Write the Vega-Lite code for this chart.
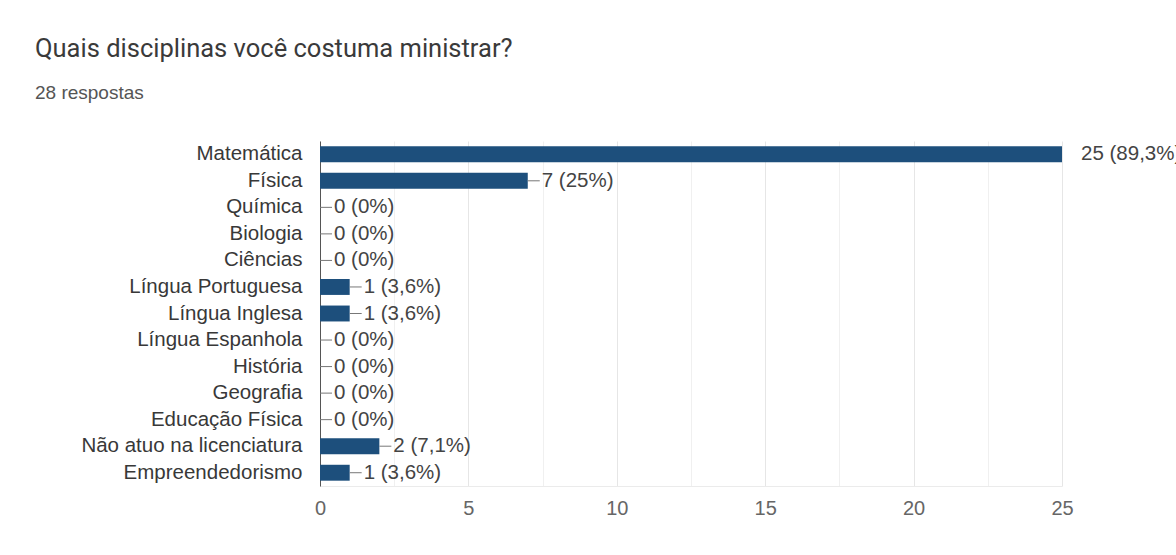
{
  "$schema": "https://vega.github.io/schema/vega-lite/v6.json",
  "width": 742,
  "height": 345,
  "autosize": {"type": "none"},
  "padding": {"left": 320, "top": 141, "right": 114, "bottom": 69},
  "background": "white",
  "title": {
    "text": "Quais disciplinas você costuma ministrar?",
    "subtitle": "28 respostas",
    "anchor": "start",
    "frame": "group",
    "dx": -285,
    "font": "Roboto",
    "fontSize": 25.5,
    "fontWeight": "normal",
    "color": "#3a3a3a",
    "subtitleFont": "Liberation Sans",
    "subtitleFontSize": 19,
    "subtitleColor": "#555555",
    "subtitlePadding": 22,
    "offset": 38
  },
  "config": {"view": {"stroke": null}},
  "data": {
    "values": [
      {"disciplina": "Matemática", "count": 25, "label": "25 (89,3%)"},
      {"disciplina": "Física", "count": 7, "label": "7 (25%)"},
      {"disciplina": "Química", "count": 0, "label": "0 (0%)"},
      {"disciplina": "Biologia", "count": 0, "label": "0 (0%)"},
      {"disciplina": "Ciências", "count": 0, "label": "0 (0%)"},
      {"disciplina": "Língua Portuguesa", "count": 1, "label": "1 (3,6%)"},
      {"disciplina": "Língua Inglesa", "count": 1, "label": "1 (3,6%)"},
      {"disciplina": "Língua Espanhola", "count": 0, "label": "0 (0%)"},
      {"disciplina": "História", "count": 0, "label": "0 (0%)"},
      {"disciplina": "Geografia", "count": 0, "label": "0 (0%)"},
      {"disciplina": "Educação Física", "count": 0, "label": "0 (0%)"},
      {"disciplina": "Não atuo na licenciatura", "count": 2, "label": "2 (7,1%)"},
      {"disciplina": "Empreendedorismo", "count": 1, "label": "1 (3,6%)"}
    ]
  },
  "encoding": {
    "y": {
      "field": "disciplina",
      "type": "nominal",
      "sort": null,
      "scale": {"paddingInner": 0.4, "paddingOuter": 0.2},
      "axis": {
        "title": null,
        "ticks": false,
        "tickSize": 0,
        "grid": false,
        "domainColor": "#555555",
        "domainWidth": 1,
        "labelPadding": 18,
        "labelFont": "Liberation Sans",
        "labelFontSize": 20.5,
        "labelColor": "#383838",
        "labelLimit": 400
      }
    },
    "x": {
      "field": "count",
      "type": "quantitative",
      "scale": {"domain": [0, 25], "nice": false},
      "axis": {
        "title": null,
        "values": [0, 2.5, 5, 7.5, 10, 12.5, 15, 17.5, 20, 22.5, 25],
        "labelExpr": "datum.value % 5 === 0 ? datum.label : ''",
        "labelFlush": false,
        "ticks": false,
        "tickSize": 0,
        "grid": true,
        "gridColor": {"condition": {"test": "datum.value % 5 === 0", "value": "#e6e6e6"}, "value": "#f0f0f0"},
        "domainColor": "#ebebeb",
        "labelPadding": 12,
        "labelFont": "Liberation Sans",
        "labelFontSize": 20,
        "labelColor": "#666666"
      }
    }
  },
  "layer": [
    {"mark": {"type": "bar", "color": "#1d4f7c"}},
    {
      "transform": [{"filter": "datum.count < 25"}],
      "mark": {"type": "rule", "color": "#777777", "strokeWidth": 1, "x2Offset": 12},
      "encoding": {"x2": {"field": "count"}}
    },
    {
      "transform": [{"filter": "datum.count < 25"}],
      "mark": {"type": "text", "align": "left", "baseline": "middle", "dx": 14, "font": "Liberation Sans", "fontSize": 20.5, "color": "#444444"},
      "encoding": {"text": {"field": "label"}}
    },
    {
      "transform": [{"filter": "datum.count >= 25"}],
      "mark": {"type": "text", "align": "left", "baseline": "middle", "dx": 19, "font": "Liberation Sans", "fontSize": 20.5, "color": "#444444"},
      "encoding": {"text": {"field": "label"}}
    }
  ]
}
